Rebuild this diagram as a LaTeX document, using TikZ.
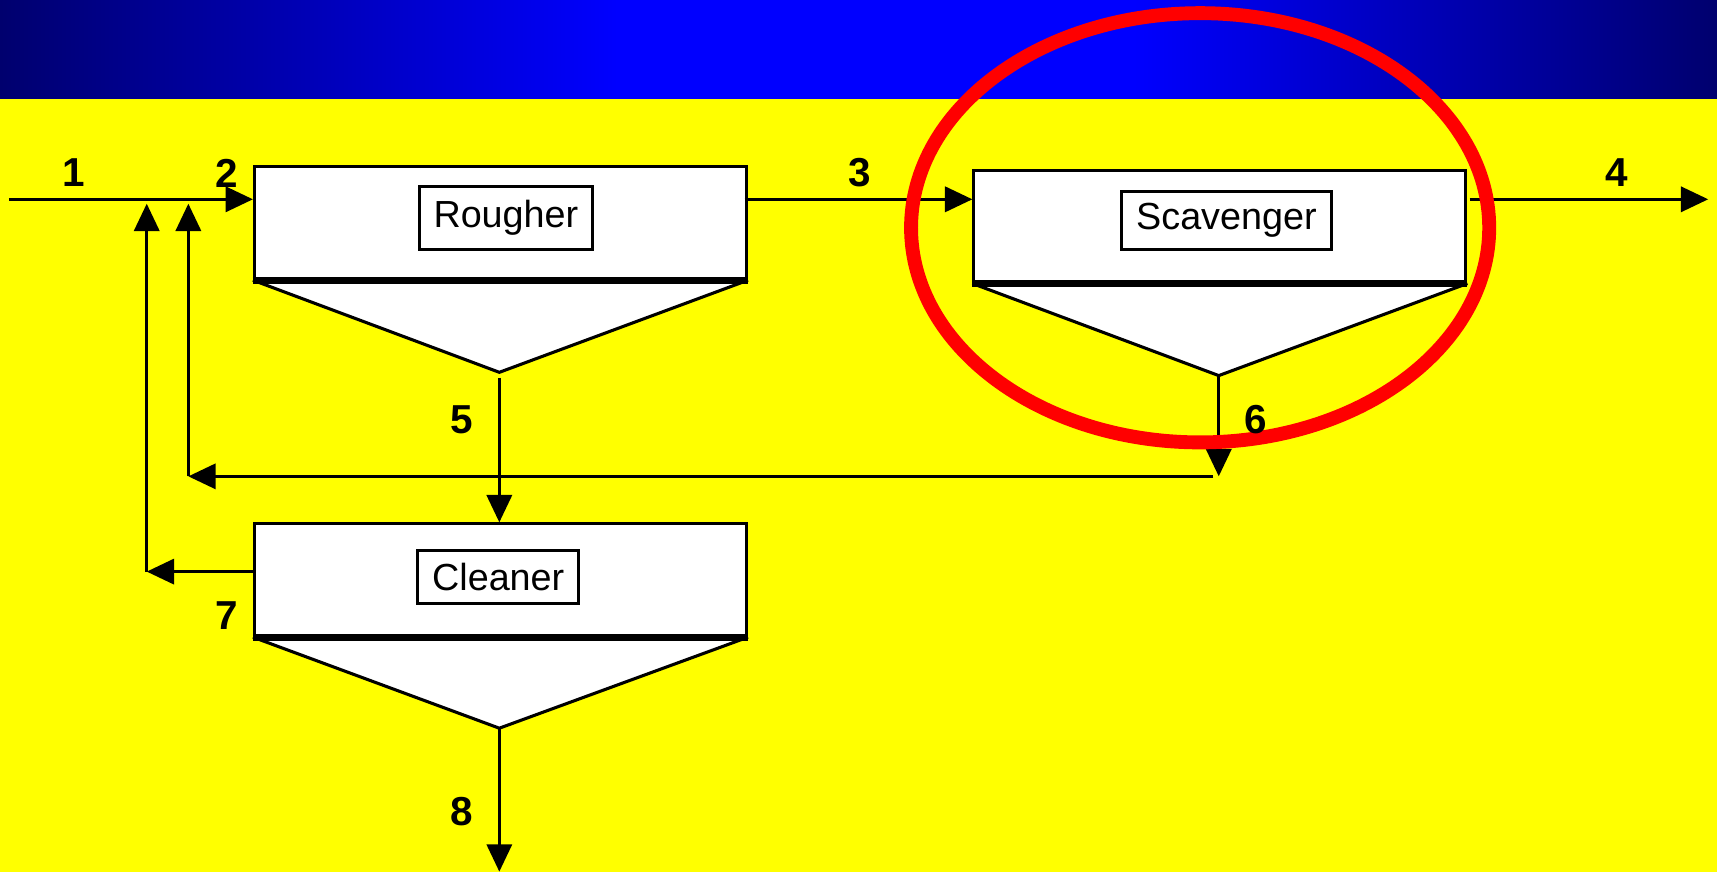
\documentclass[tikz,border=0pt]{standalone}
\usepackage{fontspec}
\setmainfont{Liberation Sans}
\usetikzlibrary{arrows.meta,calc}
\definecolor{navyband}{RGB}{0,0,110}
\definecolor{blueband}{RGB}{0,0,255}
\definecolor{bgyellow}{RGB}{255,255,0}
\definecolor{ringred}{RGB}{255,0,0}
\pgfdeclarehorizontalshading{bandshade}{100bp}{color(0bp)=(navyband); color(25bp)=(navyband); color(43bp)=(blueband); color(58bp)=(blueband); color(75bp)=(navyband); color(100bp)=(navyband)}
\begin{document}
\begin{tikzpicture}[x=0.01cm,y=-0.01cm,
  unitbox/.style={draw=black, fill=white, line width=0.8pt, minimum width=4.49cm, minimum height=1.02cm, inner sep=0pt, anchor=north west},
  labelbox/.style={draw=black, fill=white, line width=0.8pt, inner sep=0pt, font=\fontsize{9.8}{12}\selectfont},
  cone/.style={draw=black, fill=white, line width=0.8pt, line join=round},
  conebase/.style={line width=1.8pt},
  flow/.style={line width=0.8pt, -{Triangle[length=0.25cm,width=0.23cm]}},
  num/.style={font=\bfseries\fontsize{10.5}{12}\selectfont, inner sep=0pt},
]
\useasboundingbox (0,0) rectangle (1568,796);
% background
\fill[bgyellow] (0,90) rectangle (1568,796);
\shade[shading=bandshade] (0,0) rectangle (1568,90);

% units
\node[unitbox] (r) at (231,151) {};
\node[unitbox] (s) at (888,154) {};
\node[unitbox] (c) at (231,477) {};

\coordinate (ra) at (456,340);
\coordinate (sa) at (1113,343);
\coordinate (ca) at (456,665);

\draw[cone] (r.south west) -- (ra) -- (r.south east);
\draw[cone] (s.south west) -- (sa) -- (s.south east);
\draw[cone] (c.south west) -- (ca) -- (c.south east);
\draw[conebase] (r.south west) -- (r.south east);
\draw[conebase] (s.south west) -- (s.south east);
\draw[conebase] (c.south west) -- (c.south east);

\node[labelbox, minimum width=1.58cm, minimum height=0.57cm] (rl) at (462,199) {Rougher};
\node[labelbox, minimum width=1.91cm, minimum height=0.53cm] (sl) at (1120,201) {Scavenger};
\node[labelbox, minimum width=1.47cm, minimum height=0.48cm] (cl) at (455,527) {Cleaner};

% stream coordinates
\coordinate (feed) at (8,182);
\coordinate (rin) at (231,182);
\coordinate (rout) at (680,182);
\coordinate (sin) at (888,182);
\coordinate (sout) at (1342,182);
\coordinate (tail) at (1560,182);
\coordinate (r5) at (456,345);
\coordinate (c5) at (456,477);
\coordinate (s6) at (1113,435);
\coordinate (h6) at (1108,435);
\coordinate (k6) at (172,435);
\coordinate (m6) at (172,186);
\coordinate (cout) at (231,522);
\coordinate (k7) at (134,522);
\coordinate (m7) at (134,186);
\coordinate (c8) at (456,796);

% labels
\node[num] (n1) at (67,158) {1};
\node[num] (n2) at (207,158) {2};
\node[num] (n3) at (785,158) {3};
\node[num] (n4) at (1476,158) {4};
\node[num] (n5) at (422,383) {5};
\node[num] (n7) at (207,562) {7};
\node[num] (n8) at (422,741) {8};

% connectors
\draw[flow] (feed) -- (rin);
\draw[flow] (rout) -- (sin);
\draw[flow] (sout) -- (tail);
\draw[flow] (r5) -- (c5);
\draw[flow] (sa) -- (s6);
\draw[flow] (h6) -- (k6);
\draw[flow] (k6) -- (m6);
\draw[flow] (cout) -- (k7);
\draw[flow] (k7) -- (m7);
\draw[flow] (ca) -- (c8);

% highlight ring
\draw[ringred, line width=3.6pt] (1096,208) ellipse [x radius=264, y radius=196];
\node[num] (n6) at (1147,383) {6};
\end{tikzpicture}
\end{document}
